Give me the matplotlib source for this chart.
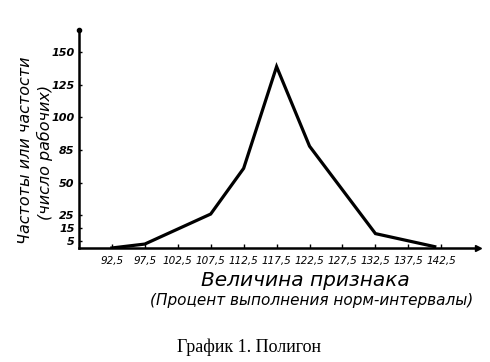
import matplotlib.pyplot as plt

# polygon points (interval midpoints, number of workers)
x = [92.5, 97.5, 107.5, 112.5, 117.5, 122.5, 132.5, 141.5]
y = [0, 3, 26, 61, 139, 78, 11, 1]

xticks = [92.5, 97.5, 102.5, 107.5, 112.5, 117.5, 122.5, 127.5, 132.5, 137.5, 142.5]
xtick_labels = ["92,5", "97,5", "102,5", "107,5", "112,5", "117,5",
                "122,5", "127,5", "132,5", "137,5", "142,5"]
# tick positions as drawn; the label "85" sits where 75 would be
yticks = [5, 15, 25, 50, 75, 100, 125, 150]
ytick_labels = ["5", "15", "25", "50", "85", "100", "125", "150"]

fig = plt.figure(figsize=(4.9, 3.62), dpi=100)
ax = fig.add_axes([0.161, 0.315, 0.815, 0.602])

ax.plot(x, y, color='black', lw=2.3, solid_joinstyle='miter')

ax.set_xlim(87.5, 148.1)
ax.set_ylim(0, 167)

for s in ['top', 'right']:
    ax.spines[s].set_visible(False)
for s in ['left', 'bottom']:
    ax.spines[s].set_linewidth(1.8)

ax.plot(1, 0, '>k', ms=5, transform=ax.transAxes, clip_on=False)
ax.plot(0, 1, 'ok', ms=3, transform=ax.transAxes, clip_on=False)

ax.set_xticks(xticks)
ax.set_xticklabels(xtick_labels, fontsize=7.5, style='italic')
ax.set_yticks(yticks)
ax.set_yticklabels(ytick_labels, fontsize=8, style='italic', fontweight='bold')
ax.tick_params(axis='x', direction='in', length=3, width=1, pad=6)
ax.tick_params(axis='y', direction='in', length=2, width=1, pad=3)

fig.text(305 / 490, 1 - 281 / 362, "Величина признака",
         ha='center', va='center', fontsize=14.5, style='italic')
fig.text(312 / 490, 1 - 300 / 362, "(Процент выполнения норм-интервалы)",
         ha='center', va='center', fontsize=11, style='italic')

fig.text(26 / 490, 1 - 150 / 362, "Частоты или частости", rotation=90,
         ha='center', va='center', fontsize=11.5, style='italic')
fig.text(45 / 490, 1 - 152 / 362, "(число рабочих)", rotation=90,
         ha='center', va='center', fontsize=11.5, style='italic')

fig.text(249 / 490, 1 - 347 / 362, "График 1. Полигон", ha='center', va='center',
         fontsize=13, family='Liberation Serif')

fig.savefig('out.png', dpi=100)
